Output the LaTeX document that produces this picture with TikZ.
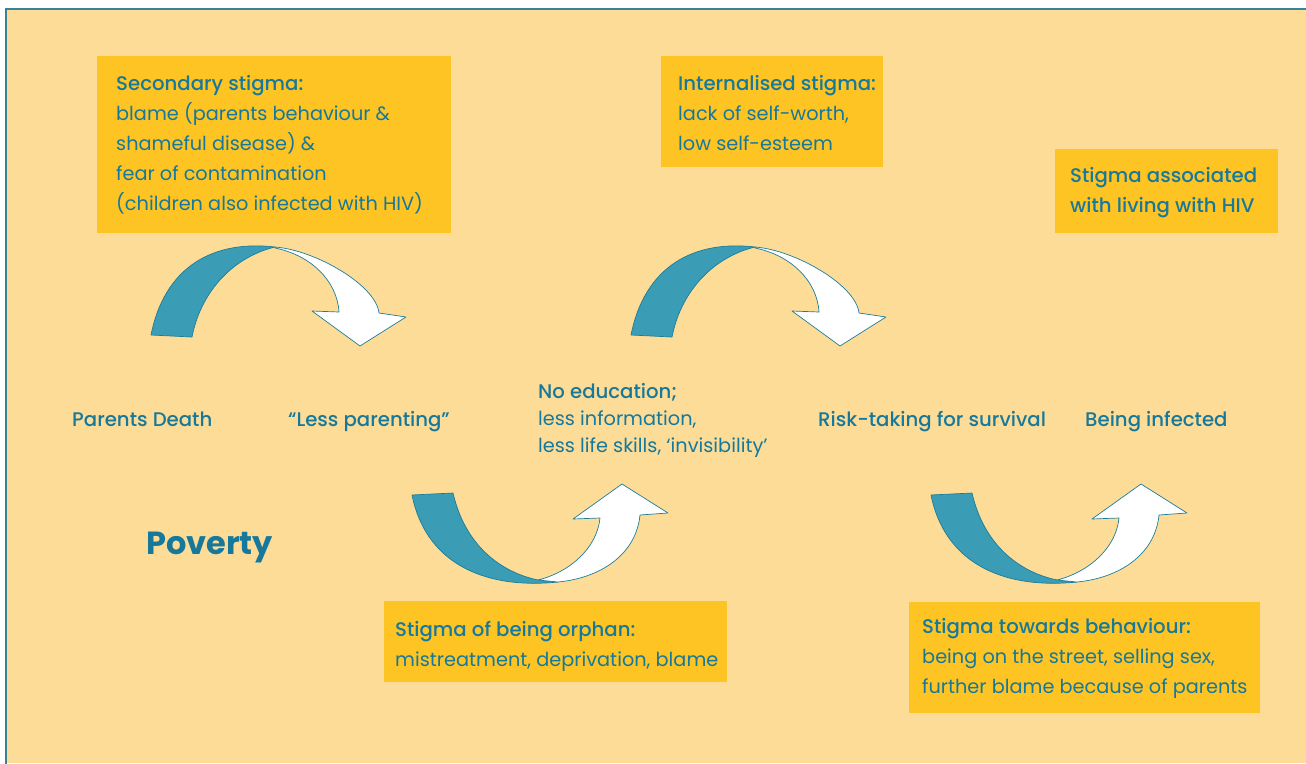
\documentclass[tikz,border=0pt]{standalone}
\usepackage{fontspec}
\setmainfont{Poppins}[BoldFont={Poppins Medium}]
\newfontfamily\povfont{Poppins}
\definecolor{bgc}{HTML}{FDDC98}
\definecolor{boxc}{HTML}{FEC424}
\definecolor{txtc}{HTML}{16789A}
\definecolor{arrteal}{HTML}{3A9DB5}
\definecolor{arrline}{HTML}{1B7C98}
\definecolor{framec}{HTML}{3A8296}
\tikzset{
  box/.style={fill=boxc, inner sep=0pt, anchor=north west},
  txt/.style={anchor=base west, inner sep=0pt, text=txtc, font=\fontsize{19.3}{30}\selectfont},
  tealpart/.style={fill=arrteal, draw=arrline, line width=0.7pt, line join=round},
  whitepart/.style={fill=white, draw=arrline, line width=0.7pt, line join=round},
}
\newcommand\hd[1]{{\fontsize{19.7}{30}\selectfont\bfseries #1}}
\newcommand\lns[1]{\parbox[t]{420pt}{\raggedright #1}}
\newcommand\overarrow[1]{%
  \begin{scope}[shift={(#1,0)}]
    \path[tealpart] (151,335) .. controls (165,265) and (215,240) .. (275,247)
      .. controls (230,258) and (200,295) .. (192,337) -- cycle;
    \path[whitepart] (275,247) .. controls (315,250) and (376,285) .. (379,313)
      -- (406,317) -- (360,346) -- (312,311) -- (339,312)
      .. controls (337,280) and (310,255) .. (275,248) -- cycle;
  \end{scope}}
\newcommand\underarrow[1]{%
  \begin{scope}[shift={(#1,0)}]
    \path[tealpart] (412,495) .. controls (425,560) and (480,590) .. (558,582)
      -- (538,580) .. controls (500,572) and (465,545) .. (453,493) -- cycle;
    \path[whitepart] (538,580) -- (558,582) .. controls (600,578) and (636,555) .. (640,515)
      -- (668,513) -- (622,484) -- (573,519) -- (600,518)
      .. controls (597,548) and (570,572) .. (538,580) -- cycle;
  \end{scope}}
\begin{document}
\begin{tikzpicture}[x=1pt,y=-1pt]
\useasboundingbox (0,0) rectangle (1306,763);
\clip (0,0) rectangle (1306,763);
\fill[white] (0,0) rectangle (1306,763);
\fill[bgc] (6,9) rectangle (1306,763);
\draw[framec, line width=1.3pt] (6,770) -- (6,9) -- (1310,9);

% boxes
\node[box, minimum width=354pt, minimum height=177pt] (b1) at (97,56) {};
\node[box, minimum width=222pt, minimum height=111pt] (b2) at (661,56) {};
\node[box, minimum width=223pt, minimum height=84pt] (b3) at (1055,149) {};
\node[box, minimum width=343pt, minimum height=81pt] (b4) at (384,601) {};
\node[box, minimum width=351pt, minimum height=111pt] (b5) at (909,602) {};

% box texts
\node[txt] (t1) at (116,90.5) {\lns{\hd{Secondary stigma:}\\blame (parents behaviour \&\\shameful disease) \&\\fear of contamination\\(children also infected with HIV)}};
\node[txt] (t2) at (678,90.5) {\lns{\hd{Internalised stigma:}\\lack of self-worth,\\low self-esteem}};
\node[txt] (t3) at (1070,182.7) {\lns{\hd{Stigma associated}\\\hd{with living with HIV}}};
\node[txt] (t4) at (395,636) {\lns{\hd{Stigma of being orphan:}\\mistreatment, deprivation, blame}};
\node[txt] (t5) at (922,633.3) {\lns{\hd{Stigma towards behaviour:}\\being on the street, selling sex,\\further blame because of parents}};

% chain labels
\node[txt] (pd) at (72,426) {\hd{Parents Death}};
\node[txt] (lp) at (288,426) {\hd{“Less parenting”}};
\node[txt, font=\fontsize{19.3}{27}\selectfont] (ne) at (538,398.3) {\lns{\hd{No education;}\\less information,\\less life skills, ‘invisibility’}};
\node[txt] (rt) at (818,426) {\hd{Risk-taking for survival}};
\node[txt] (bi) at (1085,426) {\hd{Being infected}};
\node[txt, font=\povfont\bfseries\fontsize{32}{36}\selectfont] (pov) at (146,554) {Poverty};

% arrows
\overarrow{0}
\overarrow{480}
\underarrow{0}
\underarrow{519}
\end{tikzpicture}
\end{document}
